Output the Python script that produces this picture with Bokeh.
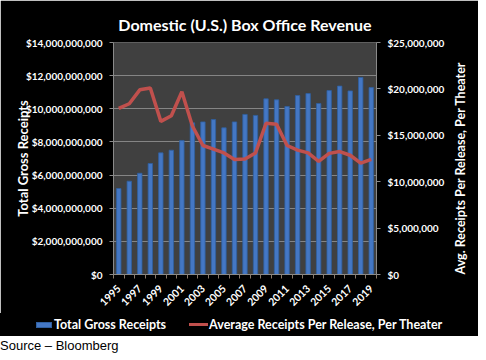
import math
from bokeh.plotting import figure
from bokeh.models import (Range1d, LinearAxis, NumeralTickFormatter, SingleIntervalTicker,
                          FixedTicker, Div, ColumnDataSource)
from bokeh.layouts import column
from bokeh.embed import file_html
from bokeh.resources import INLINE

years = list(range(1995, 2020))
gross_billions = [5.19, 5.63, 6.11, 6.70, 7.34, 7.50, 8.09, 9.15, 9.21, 9.35, 8.85, 9.21, 9.66,
                  9.60, 10.60, 10.54, 10.14, 10.80, 10.92, 10.32, 11.10, 11.37, 11.08, 11.89, 11.28]
avg_millions = [17.9, 18.4, 19.9, 20.1, 16.5, 17.1, 19.7, 16.0, 13.9, 13.5, 13.1, 12.4, 12.45,
                13.1, 16.3, 16.2, 13.9, 13.4, 13.1, 12.2, 13.05, 13.25, 12.85, 12.0, 12.4]
tick_years = years[::2]
series_names = ["Total Gross Receipts", "Average Receipts Per Release, Per Theater"]

src = ColumnDataSource(dict(
    year=years,
    gross=[g * 1e9 for g in gross_billions],
    avg=[a * 1e6 for a in avg_millions],
))

FONT = "Lato"
BAR_FILL, BAR_LINE, LINE_COL = "#4477c4", "#2f5f9f", "#c0504d"
W, H1, H2 = 478, 313, 23

p = figure(width=W, height=H1, output_backend="svg", toolbar_location=None,
           x_range=Range1d(years[0] - 0.5, years[-1] + 0.5),
           y_range=Range1d(0, 14e9),
           min_border_left=113, min_border_right=99, min_border_top=42, min_border_bottom=39,
           title="Domestic (U.S.) Box Office Revenue", margin=0)
p.background_fill_color = "#404040"
p.border_fill_color = "black"
p.outline_line_color = None

p.title.align = "center"
p.title.text_color = "white"
p.title.text_font = FONT
p.title.text_font_size = "16px"
p.title.text_font_style = "bold"
p.title.standoff = 17

p.extra_y_ranges = {"avg": Range1d(0, 25e6)}

p.vbar(x="year", top="gross", width=0.42, source=src,
       fill_color=BAR_FILL, line_color=BAR_LINE, line_width=0.8)
p.line(x="year", y="avg", source=src, y_range_name="avg",
       line_color=LINE_COL, line_width=3.5)

p.xgrid.grid_line_color = None
p.ygrid.grid_line_color = "#858585"
p.ygrid.grid_line_width = 1

ya = p.yaxis[0]
ya.ticker = SingleIntervalTicker(interval=2e9, num_minor_ticks=0)
ya.formatter = NumeralTickFormatter(format="$0,0")
ya.axis_label = "Total Gross Receipts"

ra = LinearAxis(y_range_name="avg",
                ticker=SingleIntervalTicker(interval=5e6, num_minor_ticks=0),
                formatter=NumeralTickFormatter(format="$0,0"),
                axis_label="Avg. Receipts Per Release, Per Theater")
p.add_layout(ra, "right")
ra.axis_label_orientation = math.pi / 2
ra.axis_label_align = "start"

xa = p.xaxis[0]
xa.ticker = FixedTicker(ticks=tick_years,
                        minor_ticks=[y - 0.5 for y in years] + [years[-1] + 0.5])
xa.major_label_orientation = math.pi / 4

for ax in (ya, ra, xa):
    ax.axis_line_color = "#8a8a8a"
    ax.major_tick_line_color = "#8a8a8a" if ax is not xa else None
    ax.major_tick_out = 4
    ax.major_tick_in = 0
    ax.minor_tick_line_color = "#8a7a6a" if ax is xa else None
    ax.minor_tick_out = 4
    ax.minor_tick_in = 0
    ax.major_label_text_color = "white"
    ax.major_label_text_font = FONT
    ax.major_label_text_font_style = "bold"
    ax.major_label_text_font_size = "10px"
    ax.major_label_standoff = 7
    ax.axis_label_text_color = "white"
    ax.axis_label_text_font = FONT
    ax.axis_label_text_font_style = "bold"
    ax.axis_label_text_font_size = "13px"
xa.major_label_standoff = 8
xa.major_label_text_font_size = "10.5px"
ya.axis_label_standoff = -8
ra.axis_label_standoff = 13
ra.axis_label_text_font_size = "12.5px"

# legend strip below the chart (kept outside the plot frame so it is not clipped)
bar_icon = (f'<span style="display:inline-block;width:16px;height:6px;background:{BAR_FILL};'
            f'border:1px solid {BAR_LINE};box-sizing:border-box;margin-right:2px"></span>')
line_icon = (f'<span style="display:inline-block;width:19px;height:3px;background:{LINE_COL};'
             f'margin-right:1px"></span>')
legend_html = (
    '<div style="display:flex;align-items:center;height:23px;padding-left:36px;'
    f'font-family:{FONT};font-weight:bold;font-size:12.5px;color:white;white-space:nowrap">'
    f'{bar_icon}<span>{series_names[0]}</span>'
    f'<span style="display:inline-block;width:23px"></span>'
    f'{line_icon}<span>{series_names[1]}</span></div>'
)
legend_div = Div(text=legend_html, width=W, height=H2, margin=0,
                 styles={"background-color": "black"})

div = Div(text="Source \u2013 Bloomberg", width=W, height=22, margin=0,
          styles={"font-family": "'Liberation Sans', Arial, sans-serif", "font-size": "13px",
                  "color": "black", "line-height": "20px"})

layout = column(p, legend_div, div, spacing=0)
open("out.html", "w").write(file_html(layout, INLINE))
